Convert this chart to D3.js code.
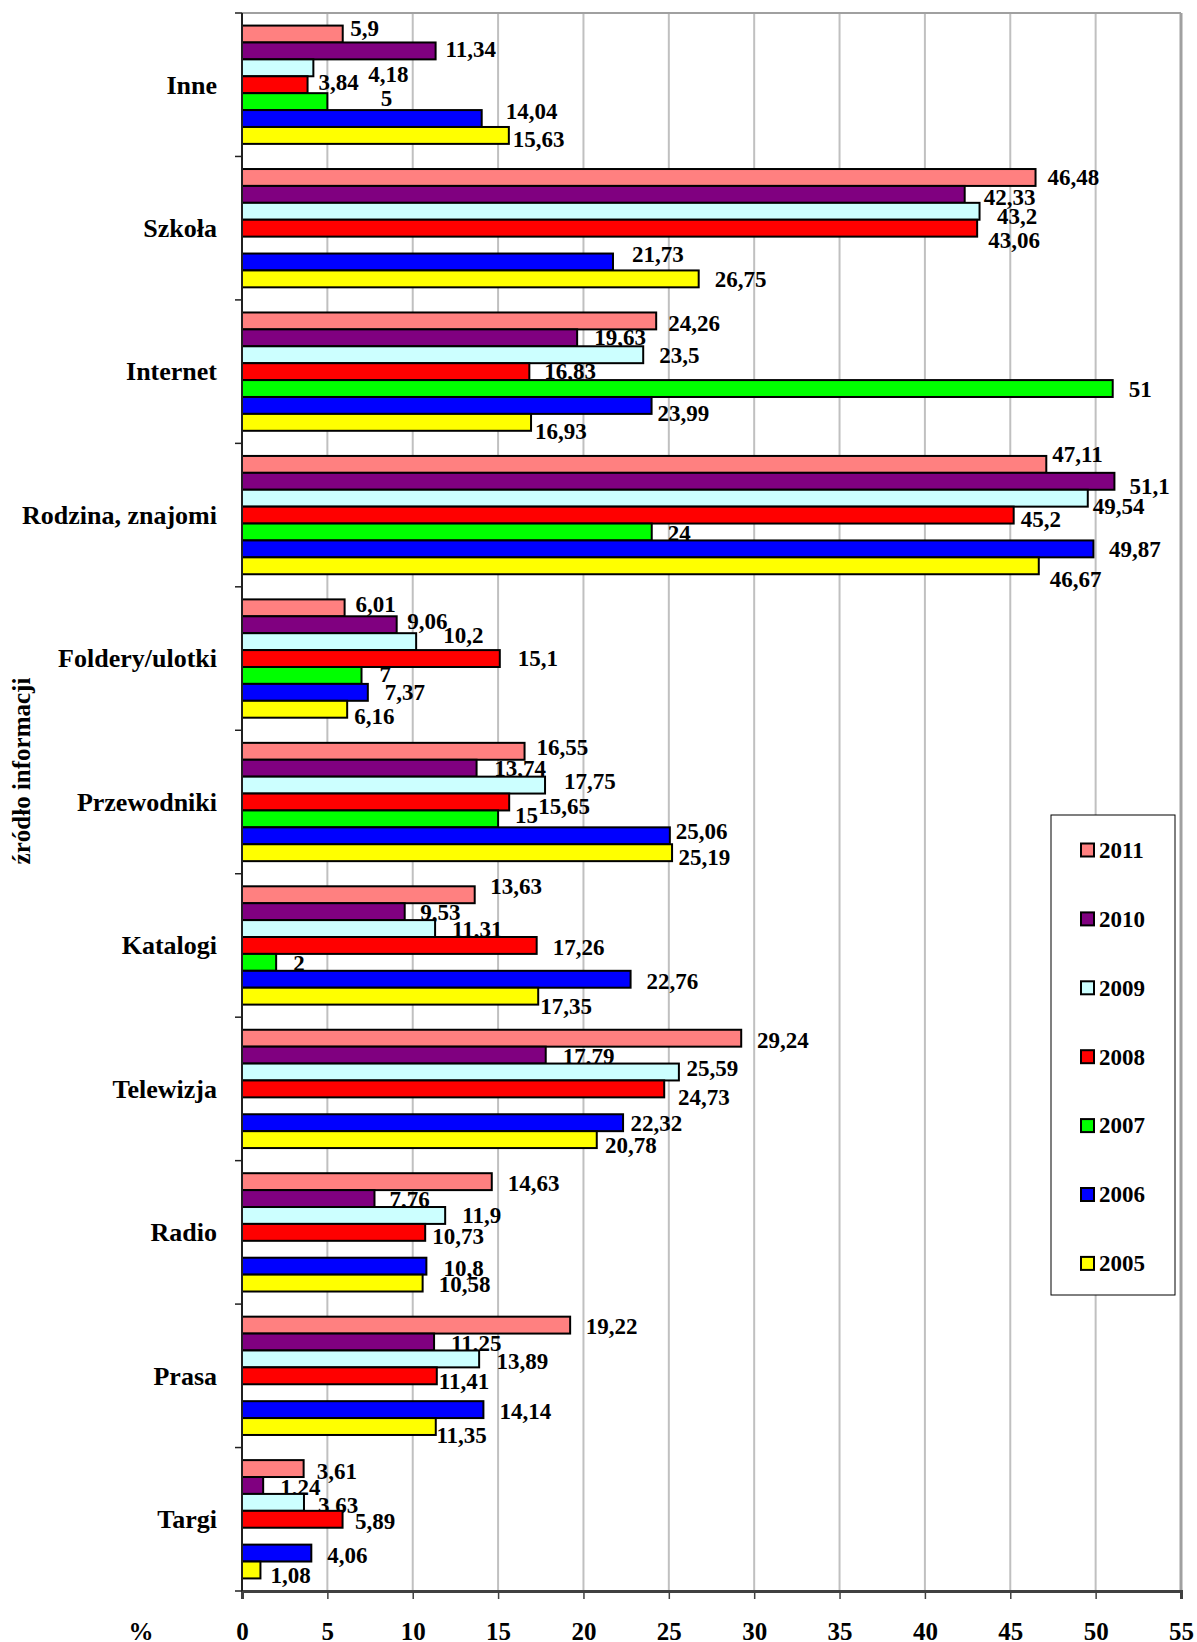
<!DOCTYPE html>
<html lang="pl">
<head>
<meta charset="utf-8">
<title>Źródło informacji</title>
<script src="https://cdn.jsdelivr.net/npm/d3@7"></script>
<style>
  html, body { margin: 0; padding: 0; background: #fff; }
  svg { display: block; }
  text { font-family: "Liberation Serif", "Times New Roman", serif; font-weight: bold; fill: #000; }
</style>
</head>
<body>
<svg id="chart" width="1197" height="1642"></svg>
<script>
// Source categories, top to bottom
const categories = ["Inne", "Szkoła", "Internet", "Rodzina, znajomi", "Foldery/ulotki",
  "Przewodniki", "Katalogi", "Telewizja", "Radio", "Prasa", "Targi"];

// Years, in the order the bars appear inside each group
const years = ["2011", "2010", "2009", "2008", "2007", "2006", "2005"];

// Share of answers (%) per year, one entry per category (null = no data)
const v2011 = [5.9, 46.48, 24.26, 47.11, 6.01, 16.55, 13.63, 29.24, 14.63, 19.22, 3.61];
const v2010 = [11.34, 42.33, 19.63, 51.1, 9.06, 13.74, 9.53, 17.79, 7.76, 11.25, 1.24];
const v2009 = [4.18, 43.2, 23.5, 49.54, 10.2, 17.75, 11.31, 25.59, 11.9, 13.89, 3.63];
const v2008 = [3.84, 43.06, 16.83, 45.2, 15.1, 15.65, 17.26, 24.73, 10.73, 11.41, 5.89];
const v2007 = [5, null, 51, 24, 7, 15, 2, null, null, null, null];
const v2006 = [14.04, 21.73, 23.99, 49.87, 7.37, 25.06, 22.76, 22.32, 10.8, 14.14, 4.06];
const v2005 = [15.63, 26.75, 16.93, 46.67, 6.16, 25.19, 17.35, 20.78, 10.58, 11.35, 1.08];

// X axis tick labels
const xTicks = [0, 5, 10, 15, 20, 25, 30, 35, 40, 45, 50, 55];

const seriesValues = [v2011, v2010, v2009, v2008, v2007, v2006, v2005];
const colors = ["#FF8080", "#800080", "#CCFFFF", "#FF0000", "#00FF00", "#0000FF", "#FFFF00"];

// Hand-placed label nudges [dx, dy] in px from the bar end / bar middle
const labelNudge = [
  [[7.5,-5.4],[12,0],[12,2],[6,-10.7],[11,-4],[12,-4],[15.5,-8.5],[15.7,1.5],[16,1.4],[15.7,1.3],[13,3]],
  [[10,-1.6],[19,3],[17,-1],[15,5],[10.5,-4],[17.6,0],[15.5,1],[17,1],[15,1],[17,1],[17,2]],
  [[55,6.5],[17.5,5],[16,0],[5,8],[27,-6],[19,-4],[17,1],[7.5,-4],[17,0],[17.4,2.5],[14,2.5]],
  [[11,-2.8],[11,12],[15,0],[7,4],[18,0],[29,4],[16,2],[13.7,8.5],[7,4],[2,5.6],[12.5,2]],
  [[53.4,-3],null,[16,1],[16,1],[18,-1.6],[17,-3.7],[17,0.6],null,null,null,null],
  [[24,-7.6],[19,-7.7],[6,8],[15.6,0.5],[17,0],[6,-4.5],[16,2],[7.4,0],[17,2],[16,2],[16,2]],
  [[4,4],[16,0],[4,9],[11,13.6],[7,7],[6.5,4.5],[2,10],[8.3,6],[16,1.6],[0.6,9],[10,5]]
];

const plot = { left: 242, right: 1181, top: 13, bottom: 1591 };

const svg = d3.select("#chart");

const x = d3.scaleLinear().domain([0, 55]).range([plot.left, plot.right]);
const y = d3.scaleBand().domain(categories).range([plot.top, plot.bottom]).padding(0);
const yInner = d3.scaleBand().domain(years).range([0, y.bandwidth()])
  .paddingInner(0).paddingOuter(0.744);

const fmt = v => String(v).replace(".", ",");

// vertical gridlines
svg.append("g")
  .selectAll("line")
  .data(xTicks.filter(t => t > 0 && t < 55))
  .join("line")
  .attr("x1", d => x(d)).attr("x2", d => x(d))
  .attr("y1", plot.top).attr("y2", plot.bottom)
  .attr("stroke", "#c0c0c0").attr("stroke-width", 2);

// plot frame: top and right edges
svg.append("line")
  .attr("x1", plot.left).attr("x2", plot.right)
  .attr("y1", plot.top).attr("y2", plot.top)
  .attr("stroke", "#a0a0a0").attr("stroke-width", 2);
svg.append("line")
  .attr("x1", x(55)).attr("x2", x(55))
  .attr("y1", plot.top).attr("y2", plot.bottom)
  .attr("stroke", "#a0a0a0").attr("stroke-width", 3);

// bars and their value labels, series by series
const barsG = svg.append("g");
years.forEach((yr, si) => {
  const rows = categories.map((c, ci) => ({ c, ci, v: seriesValues[si][ci] }))
    .filter(d => d.v !== null);
  const g = barsG.append("g");
  g.selectAll("rect")
    .data(rows)
    .join("rect")
    .attr("x", x(0))
    .attr("y", d => y(d.c) + yInner(yr))
    .attr("width", d => x(d.v) - x(0))
    .attr("height", yInner.bandwidth())
    .attr("fill", colors[si])
    .attr("stroke", "#000")
    .attr("stroke-width", 2);
  g.selectAll("text")
    .data(rows)
    .join("text")
    .attr("x", d => x(d.v) + labelNudge[si][d.ci][0])
    .attr("y", d => y(d.c) + yInner(yr) + yInner.bandwidth() / 2 + labelNudge[si][d.ci][1])
    .attr("dy", "0.34em")
    .attr("font-size", 23)
    .text(d => fmt(d.v));
});

// bottom axis
const xAxis = d3.axisBottom(x).tickValues(xTicks).tickSize(8).tickPadding(23)
  .tickFormat(d3.format("d"));
const gx = svg.append("g")
  .attr("transform", `translate(0,${plot.bottom})`)
  .call(xAxis);
gx.select(".domain").attr("stroke", "#404040").attr("stroke-width", 3);
gx.selectAll(".tick line").attr("stroke", "#404040").attr("stroke-width", 1.5);
gx.selectAll(".tick text")
  .attr("font-size", 25)
  .attr("font-family", "'Liberation Serif', 'Times New Roman', serif")
  .attr("font-weight", "bold")
  .attr("fill", "#000");

svg.append("text")
  .attr("x", 141).attr("y", plot.bottom + 31 + 25 * 0.71)
  .attr("text-anchor", "middle")
  .attr("font-size", 25)
  .text("%");

// left axis with ticks on category boundaries
const ga = svg.append("g");
ga.append("line")
  .attr("x1", plot.left).attr("x2", plot.left)
  .attr("y1", plot.top).attr("y2", plot.bottom)
  .attr("stroke", "#202020").attr("stroke-width", 2);
ga.selectAll("line.tick")
  .data(categories.map(c => y(c)).concat([plot.bottom]))
  .join("line")
  .attr("class", "tick")
  .attr("x1", plot.left - 7).attr("x2", plot.left)
  .attr("y1", d => d).attr("y2", d => d)
  .attr("stroke", "#202020").attr("stroke-width", 1.5);
ga.selectAll("text")
  .data(categories)
  .join("text")
  .attr("x", 217)
  .attr("y", d => y(d) + y.bandwidth() / 2)
  .attr("dy", "0.34em")
  .attr("text-anchor", "end")
  .attr("font-size", 26)
  .text(d => d);

// axis title
svg.append("text")
  .attr("transform", "translate(21,771) rotate(-90)")
  .attr("text-anchor", "middle")
  .attr("dy", "0.34em")
  .attr("font-size", 25)
  .text("źródło informacji");

// legend
const legend = svg.append("g");
legend.append("rect")
  .attr("x", 1051).attr("y", 815)
  .attr("width", 124).attr("height", 480)
  .attr("fill", "#fff").attr("stroke", "#000").attr("stroke-width", 1);
const item = legend.selectAll("g.item")
  .data(years)
  .join("g")
  .attr("class", "item")
  .attr("transform", (d, i) => `translate(0,${850 + i * 68.9})`);
item.append("rect")
  .attr("x", 1081).attr("y", -6.5)
  .attr("width", 13).attr("height", 13)
  .attr("fill", (d, i) => colors[i])
  .attr("stroke", "#000").attr("stroke-width", 2);
item.append("text")
  .attr("x", 1099).attr("dy", "0.34em")
  .attr("font-size", 23)
  .text(d => d);
</script>
</body>
</html>
